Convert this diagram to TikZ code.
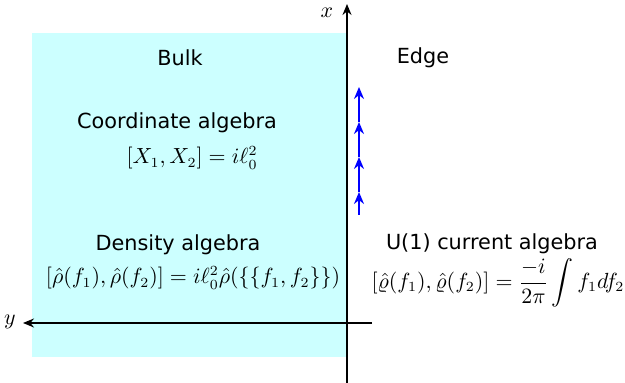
\documentclass[tikz,border=0pt]{standalone}
\usepackage{amsmath}
\usepackage{fontspec}
\setmainfont{DejaVu Sans}
\usetikzlibrary{arrows.meta}
\definecolor{bulkcyan}{RGB}{204,255,255}
\begin{document}
\begin{tikzpicture}[x=0.5pt,y=-0.5pt,
  lbl/.style={font=\fontsize{10.4}{12.5}\selectfont, inner sep=0pt},
  eq/.style={font=\fontsize{10.65}{13}\selectfont, inner sep=0pt},
  axis/.style={line width=0.8pt, -{Stealth[length=5.5pt,width=4.5pt]}},
  edgearrow/.style={blue, line width=0.8pt, -{Stealth[length=6pt,width=5pt]}}]
\useasboundingbox (0,0) rectangle (625,383);
\fill[bulkcyan] (32,33) rectangle (347,357);
% axes
\coordinate (xb) at (347,383);
\coordinate (xt) at (347,4);
\coordinate (yr) at (372,323);
\coordinate (yl) at (23,323);
\draw[axis] (xb) -- (xt);
\draw[axis] (yr) -- (yl);
\node[eq] (xlab) at (327,13) {$x$};
\node[eq] (ylab) at (10,322) {$y$};
% edge current arrows
\coordinate (e0) at (359,215);
\coordinate (e1) at (359,192);
\coordinate (e2) at (359,157);
\coordinate (e3) at (359,122);
\coordinate (e4) at (359,87);
\draw[edgearrow] (e0) -- (e1);
\draw[edgearrow] (e1) -- (e2);
\draw[edgearrow] (e2) -- (e3);
\draw[edgearrow] (e3) -- (e4);
% texts
\node[lbl] (bulk) at (180,58) {Bulk};
\node[lbl] (edge) at (423,58) {Edge};
\node[lbl] (coord) at (177,122.5) {Coordinate algebra};
\node[eq] (coordeq) at (192,158) {$[X_1,X_2]=i\ell_0^2$};
\node[lbl] (dens) at (178,244.5) {Density algebra};
\node[eq] (denseq) at (193,278) {$[\hat\rho(f_1),\hat\rho(f_2)]=i\ell_0^2\hat\rho(\{\{f_1,f_2\}\})$};
\node[lbl] (u1) at (492,243.5) {U(1) current algebra};
\node[eq] (u1eq) at (498,283) {$[\hat\varrho(f_1),\hat\varrho(f_2)]=\dfrac{-i}{2\pi}\displaystyle\int f_1df_2$};
\end{tikzpicture}
\end{document}
